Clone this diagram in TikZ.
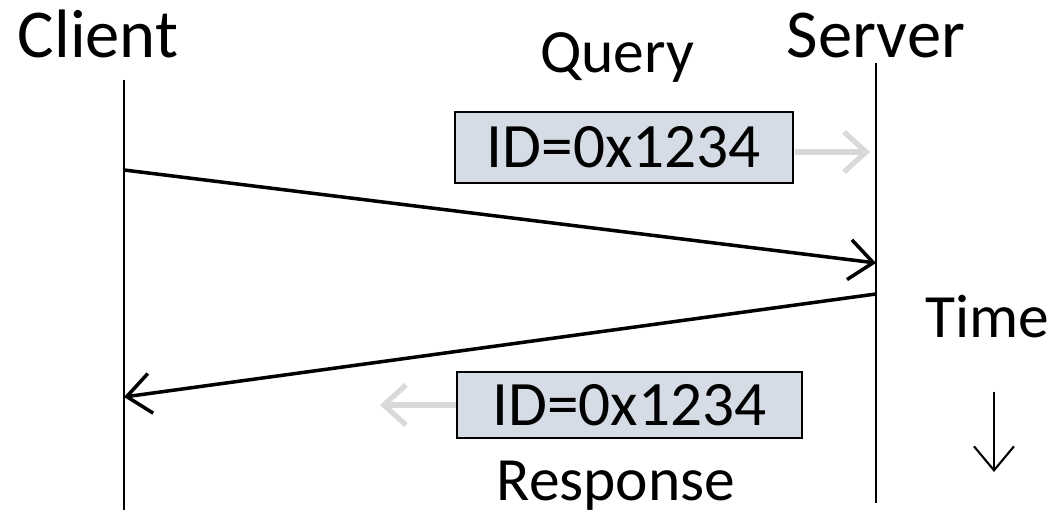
\documentclass[tikz,border=0pt]{standalone}
\usepackage{fontspec}
\setmainfont{Carlito}
\usetikzlibrary{arrows.meta}
\definecolor{boxfill}{HTML}{D6DCE5}
\definecolor{hintgray}{HTML}{D9D9D9}

\begin{document}
\begin{tikzpicture}[
    lifeline/.style={line width=0.6pt},
    msg/.style={line width=1pt,-{Straight Barb[length=2.4mm,width=4mm]}},
    hint/.style={line width=1.5pt,draw=hintgray,-{Straight Barb[length=2.2mm,width=4mm]}},
    idbox/.style={draw,line width=0.7pt,fill=boxfill,inner sep=0pt,font=\fontsize{18}{20}\selectfont},
    lbl/.style={anchor=base,font=\fontsize{17.5}{20}\selectfont},
    party/.style={anchor=base,font=\fontsize{19.5}{22}\selectfont}
  ]
    \useasboundingbox (0,0) rectangle (10.61,5.12);
    % labels
    \node[party] (client) at (0.98,4.54) {Client};
    \node[party] (server) at (8.76,4.54) {Server};
    \node[lbl] (query) at (6.17,4.39) {Query};
    \node[lbl] (response) at (6.16,0.11) {Response};
    \node[lbl] (time) at (9.87,1.74) {Time};
    % lifelines
    \coordinate (ctop) at (1.24,4.32);
    \coordinate (cbot) at (1.24,0.02);
    \coordinate (stop) at (8.76,4.49);
    \coordinate (sbot) at (8.76,0.09);
    \draw[lifeline] (ctop) -- (cbot);
    \draw[lifeline] (stop) -- (sbot);
    % messages
    \coordinate (qa) at (1.24,3.42);
    \coordinate (qb) at (8.76,2.49);
    \coordinate (ra) at (8.76,2.18);
    \coordinate (rb) at (1.24,1.15);
    \draw[msg] (qa) -- (qb);
    \draw[msg] (ra) -- (rb);
    % packets
    \node[idbox,minimum width=3.38cm,minimum height=0.71cm] (qid) at (6.24,3.645) {ID=0x1234};
    \node[idbox,minimum width=3.45cm,minimum height=0.66cm] (rid) at (6.295,1.07) {ID=0x1234};
    \coordinate (qh1) at (7.95,3.60);
    \coordinate (qh2) at (8.70,3.60);
    \coordinate (rh) at (3.80,1.07);
    \draw[hint] (qh1) -- (qh2);
    \draw[hint] (rid.west) -- (rh);
    % time
    \coordinate (ta) at (9.94,1.20);
    \coordinate (tb) at (9.94,0.40);
    \draw[msg,line width=0.6pt] (ta) -- (tb);
\end{tikzpicture}
\end{document}
